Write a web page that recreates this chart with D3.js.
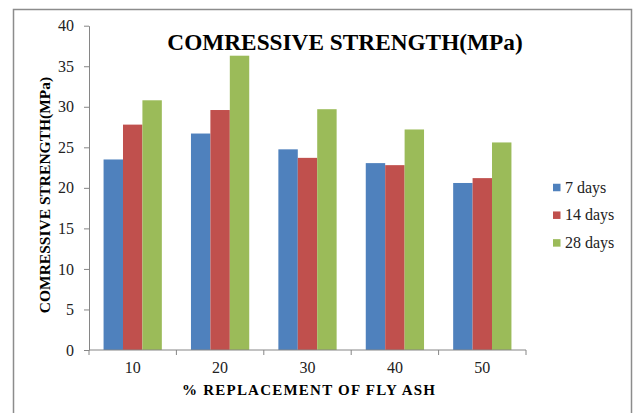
<!DOCTYPE html>
<html>
<head>
<meta charset="utf-8">
<script src="https://cdn.jsdelivr.net/npm/d3@7"></script>
<style>
  html, body { margin: 0; padding: 0; background: #fff; }
  svg { display: block; }
  svg text { font-family: "Liberation Serif", "Times New Roman", Times, serif; }
</style>
</head>
<body>
<svg id="chart" width="634" height="413"></svg>
<script>
// Fly ash replacement levels (%) and compressive strength by curing age (MPa)
const categories = ["10", "20", "30", "40", "50"];
const seriesNames = ["7 days", "14 days", "28 days"];
const days7  = [23.5, 26.7, 24.75, 23.05, 20.6];
const days14 = [27.8, 29.6, 23.7, 22.8, 21.2];
const days28 = [30.8, 36.3, 29.7, 27.2, 25.6];
const yTicks = [0, 5, 10, 15, 20, 25, 30, 35, 40];
const colors = ["#4F81BD", "#C0504D", "#9BBB59"];

const series = [days7, days14, days28];
const FONT = "Liberation Serif";

const svg = d3.select("#chart");

// outer chart frame
svg.append("rect")
  .attr("x", 13.5).attr("y", 9.5)
  .attr("width", 618).attr("height", 420)
  .attr("fill", "#fff")
  .attr("stroke", "#8c8c8c").attr("stroke-width", 1.5);

const plot = { left: 89, right: 526, top: 25.7, bottom: 350 };

const x = d3.scaleBand().domain(categories)
  .range([plot.left, plot.right]).paddingInner(0).paddingOuter(0);
const inner = d3.scaleBand().domain(d3.range(series.length))
  .range([0, x.bandwidth()]).paddingOuter(0.75).paddingInner(0);
const y = d3.scaleLinear().domain([0, 40]).range([plot.bottom, plot.top]);

// bars
series.forEach((vals, si) => {
  svg.append("g").selectAll("rect")
    .data(vals)
    .join("rect")
    .attr("x", (d, i) => x(categories[i]) + inner(si))
    .attr("y", d => y(d))
    .attr("width", inner.bandwidth())
    .attr("height", d => y(0) - y(d))
    .attr("fill", colors[si]);
});

// y axis
const yAxis = svg.append("g")
  .attr("transform", `translate(${plot.left},0)`)
  .call(d3.axisLeft(y).tickValues(yTicks).tickSize(5).tickSizeOuter(0).tickPadding(10));
yAxis.attr("font-family", FONT).attr("font-size", 16);
yAxis.select(".domain").attr("stroke", "#868686");
yAxis.selectAll(".tick line").attr("stroke", "#868686");
yAxis.selectAll(".tick text")
  .style("font-family", FONT)
  .attr("font-size", 16).attr("fill", "#222");

// x axis with ticks at band boundaries
const xAxisG = svg.append("g").attr("transform", `translate(0,${plot.bottom})`);
xAxisG.append("line")
  .attr("x1", plot.left).attr("x2", plot.right)
  .attr("stroke", "#868686");
const boundaries = categories.map(c => x(c)).concat([plot.right]);
xAxisG.selectAll("line.tk").data(boundaries).join("line")
  .attr("class", "tk")
  .attr("x1", d => d).attr("x2", d => d)
  .attr("y1", 0).attr("y2", 5)
  .attr("stroke", "#868686");
xAxisG.selectAll("text").data(categories).join("text")
  .attr("x", d => x(d) + x.bandwidth() / 2)
  .attr("y", 23)
  .attr("text-anchor", "middle")
  .style("font-family", FONT)
  .attr("font-size", 16).attr("fill", "#222")
  .text(d => d);

// title
svg.append("text")
  .attr("x", 345).attr("y", 50)
  .attr("text-anchor", "middle")
  .style("font-family", FONT)
  .attr("font-size", 23.3).attr("font-weight", "bold")
  .attr("fill", "#000")
  .text("COMRESSIVE STRENGTH(MPa)");

// axis titles
svg.append("text")
  .attr("transform", "translate(50,195) rotate(-90)")
  .attr("text-anchor", "middle")
  .style("font-family", FONT)
  .attr("font-size", 15.5).attr("font-weight", "bold")
  .text("COMRESSIVE STRENGTH(MPa)");

svg.append("text")
  .attr("x", 308.5).attr("y", 395)
  .attr("text-anchor", "middle")
  .attr("textLength", 253).attr("lengthAdjust", "spacing")
  .style("font-family", FONT)
  .attr("font-size", 15).attr("font-weight", "bold")
  .text("% REPLACEMENT OF FLY ASH");

// legend
const legend = svg.append("g").attr("transform", "translate(553,187.5)");
const rows = legend.selectAll("g").data(seriesNames).join("g")
  .attr("transform", (d, i) => `translate(0,${i * 27.7})`);
rows.append("rect")
  .attr("x", 0).attr("y", -3.75)
  .attr("width", 7.5).attr("height", 7.5)
  .attr("fill", (d, i) => colors[i]);
rows.append("text")
  .attr("x", 12).attr("y", 5)
  .style("font-family", FONT)
  .attr("font-size", 16).attr("fill", "#222")
  .text(d => d);
</script>
</body>
</html>
